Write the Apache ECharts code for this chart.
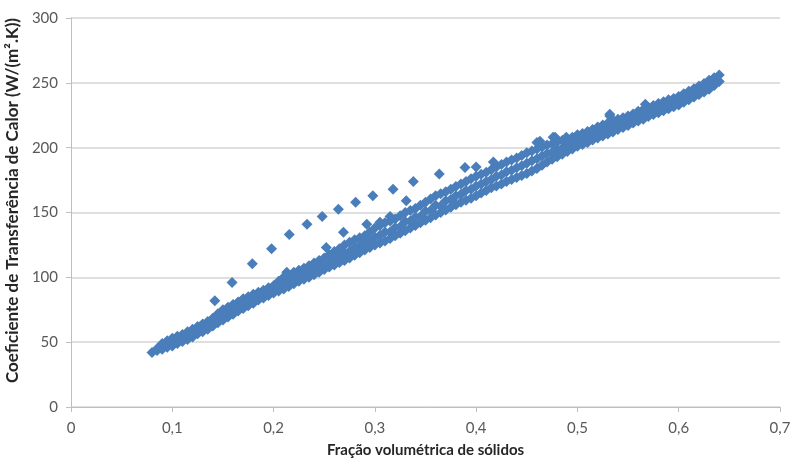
<!DOCTYPE html>
<html>
<head>
<meta charset="utf-8">
<script src="https://cdn.jsdelivr.net/npm/echarts@6/dist/echarts.min.js"></script>
<style>
  html, body { margin: 0; padding: 0; background: #fff; }
  #chart { width: 793px; height: 461px; }
</style>
</head>
<body>
<div id="chart"></div>
<script>
// eixo x: 0 .. 0,7 ; eixo y: 0 .. 300
const xTicks = [0, 0.1, 0.2, 0.3, 0.4, 0.5, 0.6, 0.7]
const yTicks = [0, 50, 100, 150, 200, 250, 300]

// faixa principal (borda inferior)
const bandLower = [
  [0.08, 42], [0.09, 44.5], [0.10, 47], [0.11, 50.5], [0.12, 54], [0.13, 58], [0.14, 62.5],
  [0.15, 67], [0.16, 71.5], [0.17, 76], [0.18, 80], [0.19, 84], [0.20, 88], [0.21, 91],
  [0.22, 95], [0.23, 98.5], [0.24, 102], [0.25, 106], [0.26, 109.5], [0.27, 113], [0.28, 117],
  [0.29, 121], [0.30, 125], [0.31, 128], [0.32, 132], [0.33, 136], [0.34, 140], [0.35, 144],
  [0.36, 148], [0.37, 152], [0.38, 156], [0.39, 159.5], [0.40, 163], [0.41, 167], [0.42, 170.5],
  [0.43, 174], [0.44, 177], [0.45, 180], [0.46, 184], [0.47, 189], [0.48, 193], [0.49, 197],
  [0.50, 201], [0.51, 204], [0.52, 207.5], [0.53, 210.5], [0.54, 214], [0.55, 217], [0.56, 220.5],
  [0.57, 224], [0.58, 227], [0.59, 230], [0.60, 233], [0.61, 237], [0.62, 241], [0.63, 245],
  [0.64, 251]
]
const bandLowerB = [
  [0.085, 43.5], [0.095, 46], [0.105, 49], [0.115, 52], [0.125, 56.5], [0.135, 60], [0.145, 65],
  [0.155, 69.5], [0.165, 74], [0.175, 78], [0.185, 82.5], [0.195, 86], [0.205, 89.5], [0.215, 93],
  [0.225, 97], [0.235, 100], [0.245, 104], [0.255, 108], [0.265, 111.5], [0.275, 115], [0.285, 119],
  [0.295, 123], [0.305, 126.5], [0.315, 130], [0.325, 134], [0.335, 138], [0.345, 142], [0.355, 146],
  [0.365, 150], [0.375, 154], [0.385, 158], [0.395, 161], [0.405, 165], [0.415, 169], [0.425, 172],
  [0.435, 175.5], [0.445, 178.5], [0.455, 182], [0.465, 186.5], [0.475, 191], [0.485, 195],
  [0.495, 199], [0.505, 202.5], [0.515, 206], [0.525, 209], [0.535, 212], [0.545, 215.5],
  [0.555, 219], [0.565, 222], [0.575, 225.5], [0.585, 228.5], [0.595, 231.5], [0.605, 235],
  [0.615, 239], [0.625, 243], [0.635, 248]
]

// faixa principal (meio)
const bandMiddle = [
  [0.085, 45], [0.095, 48.5], [0.105, 51.5], [0.115, 55], [0.125, 59], [0.135, 63.5], [0.145, 68],
  [0.155, 73], [0.165, 77.5], [0.175, 81.5], [0.185, 85.5], [0.195, 89], [0.205, 93], [0.215, 98],
  [0.225, 101], [0.235, 104.5], [0.245, 108.5], [0.255, 112.5], [0.265, 116], [0.275, 120],
  [0.285, 124.5], [0.295, 128], [0.305, 132.5], [0.315, 135], [0.325, 139], [0.335, 143.5],
  [0.345, 147], [0.355, 151.5], [0.365, 155], [0.375, 160], [0.385, 164], [0.395, 168],
  [0.405, 172], [0.415, 175.5], [0.425, 179], [0.435, 182.5], [0.445, 186], [0.455, 190],
  [0.465, 193.5], [0.475, 196.5], [0.485, 199.5], [0.495, 203], [0.505, 206.5], [0.515, 209.5],
  [0.525, 213], [0.535, 216], [0.545, 219.5], [0.555, 222.5], [0.565, 226], [0.575, 229],
  [0.585, 232.5], [0.595, 235.5], [0.605, 239], [0.615, 242.5], [0.625, 246.5], [0.635, 251]
]
const bandMiddleB = [
  [0.09, 47], [0.10, 50], [0.11, 53], [0.12, 57], [0.13, 61], [0.14, 65.5], [0.15, 71],
  [0.16, 75.5], [0.17, 80], [0.18, 83.5], [0.19, 87], [0.20, 91], [0.21, 95.5], [0.22, 99.5],
  [0.23, 103], [0.24, 106.5], [0.25, 110.5], [0.26, 115], [0.27, 119], [0.28, 123], [0.29, 126.5],
  [0.30, 131], [0.31, 135], [0.32, 138.5], [0.33, 143], [0.34, 146.5], [0.35, 151], [0.36, 155.5],
  [0.37, 159], [0.38, 163], [0.39, 167], [0.40, 170.5], [0.41, 174], [0.42, 178], [0.43, 181.5],
  [0.44, 184.5], [0.45, 188], [0.46, 191.5], [0.47, 195.5], [0.48, 199], [0.49, 202], [0.50, 205.5],
  [0.51, 208], [0.52, 212], [0.53, 215], [0.54, 218], [0.55, 221], [0.56, 224], [0.57, 227.5],
  [0.58, 230.5], [0.59, 233.5], [0.60, 236], [0.61, 240], [0.62, 244], [0.63, 248.5]
]

// faixa principal (borda superior)
const bandUpper = [
  [0.09, 49], [0.10, 53], [0.11, 56], [0.12, 60], [0.13, 64], [0.14, 68.5], [0.15, 75],
  [0.16, 79], [0.17, 83.5], [0.18, 87], [0.19, 90], [0.20, 93.5], [0.21, 100], [0.22, 104],
  [0.23, 107], [0.24, 111], [0.25, 115], [0.26, 120], [0.27, 125], [0.28, 129], [0.29, 132],
  [0.30, 138], [0.31, 142], [0.32, 145], [0.33, 150], [0.34, 153], [0.35, 158], [0.36, 163],
  [0.37, 166], [0.38, 170], [0.39, 174], [0.40, 178], [0.41, 181], [0.42, 185], [0.43, 189],
  [0.44, 192], [0.45, 196], [0.46, 199], [0.47, 202], [0.48, 204.5], [0.49, 206.5], [0.50, 210],
  [0.51, 212.5], [0.52, 216], [0.53, 219], [0.54, 222], [0.55, 224.5], [0.56, 228], [0.57, 231],
  [0.58, 234], [0.59, 237], [0.60, 239.5], [0.61, 243.5], [0.62, 247.5], [0.63, 252], [0.64, 256]
]
const bandUpperB = [
  [0.095, 51], [0.105, 54.5], [0.115, 58], [0.125, 62], [0.135, 66], [0.145, 72], [0.155, 77],
  [0.165, 81], [0.175, 85], [0.185, 88.5], [0.195, 92], [0.205, 97], [0.215, 102], [0.225, 105.5],
  [0.235, 109], [0.245, 113], [0.255, 117.5], [0.265, 122], [0.275, 127], [0.285, 130.5],
  [0.295, 135], [0.305, 140], [0.315, 143.5], [0.325, 147.5], [0.335, 151.5], [0.345, 155.5],
  [0.355, 160.5], [0.365, 164.5], [0.375, 168], [0.385, 172], [0.395, 176], [0.405, 179.5],
  [0.415, 183], [0.425, 187], [0.435, 190.5], [0.445, 194], [0.455, 197.5], [0.465, 200.5],
  [0.475, 203], [0.485, 205.5], [0.495, 208], [0.505, 211], [0.515, 214], [0.525, 217.5],
  [0.535, 220.5], [0.545, 223], [0.555, 226], [0.565, 229.5], [0.575, 232.5], [0.585, 235.5],
  [0.595, 238], [0.605, 241.5], [0.615, 245.5], [0.625, 249.5], [0.635, 254]
]

// pontos que saem da faixa
const bandSpikes = [
  [0.213, 104], [0.252, 123], [0.269, 134.8], [0.292, 141], [0.305, 142.5], [0.315, 147],
  [0.331, 159], [0.40, 185], [0.463, 205], [0.476, 208], [0.489, 208], [0.532, 225.8]
]

// série superior isolada
const upperPoints = [
  [0.142, 82], [0.159, 96], [0.179, 110.5], [0.198, 122], [0.2155, 133], [0.233, 141],
  [0.248, 147], [0.264, 152.5], [0.281, 158], [0.298, 163], [0.318, 168], [0.338, 174],
  [0.3636, 179.7], [0.389, 184.8], [0.417, 189], [0.46, 204], [0.478, 208], [0.532, 224.5],
  [0.567, 233.5]
]

const markerColor = '#4A7EBB'
const fontFamily = 'Lato, "Open Sans", sans-serif'

const chart = echarts.init(document.getElementById('chart'), null, { renderer: 'canvas' })

const makeSeries = data => ({
  type: 'scatter',
  symbol: 'diamond',
  symbolSize: 11,
  itemStyle: { color: markerColor, opacity: 1 },
  emphasis: { disabled: true },
  data: data
})

chart.setOption({
  animation: false,
  backgroundColor: '#fff',
  grid: { left: 71, right: 13, top: 18, bottom: 54, containLabel: false, outerBoundsMode: 'none' },
  xAxis: {
    type: 'value',
    min: xTicks[0],
    max: xTicks[xTicks.length - 1],
    interval: 0.1,
    name: 'Fração volumétrica de sólidos',
    nameLocation: 'middle',
    nameGap: 36,
    nameTextStyle: { fontFamily, fontSize: 15, fontWeight: 'bold', color: '#262626' },
    axisLine: { show: true, lineStyle: { color: '#BFBFBF', width: 1 } },
    axisTick: { show: true, length: 5, inside: false, lineStyle: { color: '#BFBFBF' } },
    axisLabel: {
      fontFamily, fontSize: 15, color: '#595959', margin: 14,
      formatter: v => String(Math.round(v * 10) / 10).replace('.', ',')
    },
    splitLine: { show: false }
  },
  yAxis: {
    type: 'value',
    min: yTicks[0],
    max: yTicks[yTicks.length - 1],
    interval: 50,
    name: 'Coeficiente de Transferência de Calor (W/(m².K))',
    nameLocation: 'middle',
    nameGap: 45,
    nameRotate: 90,
    nameTextStyle: { fontFamily, fontSize: 17, fontWeight: 'bold', color: '#262626', padding: [0, 0, 0, 24] },
    axisLine: { show: true, lineStyle: { color: '#BFBFBF', width: 1 } },
    axisTick: { show: true, length: 5, lineStyle: { color: '#BFBFBF' } },
    axisLabel: { fontFamily, fontSize: 15, color: '#595959', margin: 13 },
    splitLine: { show: true, lineStyle: { color: '#D4D4D4', width: 1.5 } }
  },
  series: [
    makeSeries(bandLower),
    makeSeries(bandLowerB),
    makeSeries(bandMiddle),
    makeSeries(bandMiddleB),
    makeSeries(bandUpper),
    makeSeries(bandUpperB),
    makeSeries(bandSpikes),
    makeSeries(upperPoints)
  ]
})
</script>
</body>
</html>
